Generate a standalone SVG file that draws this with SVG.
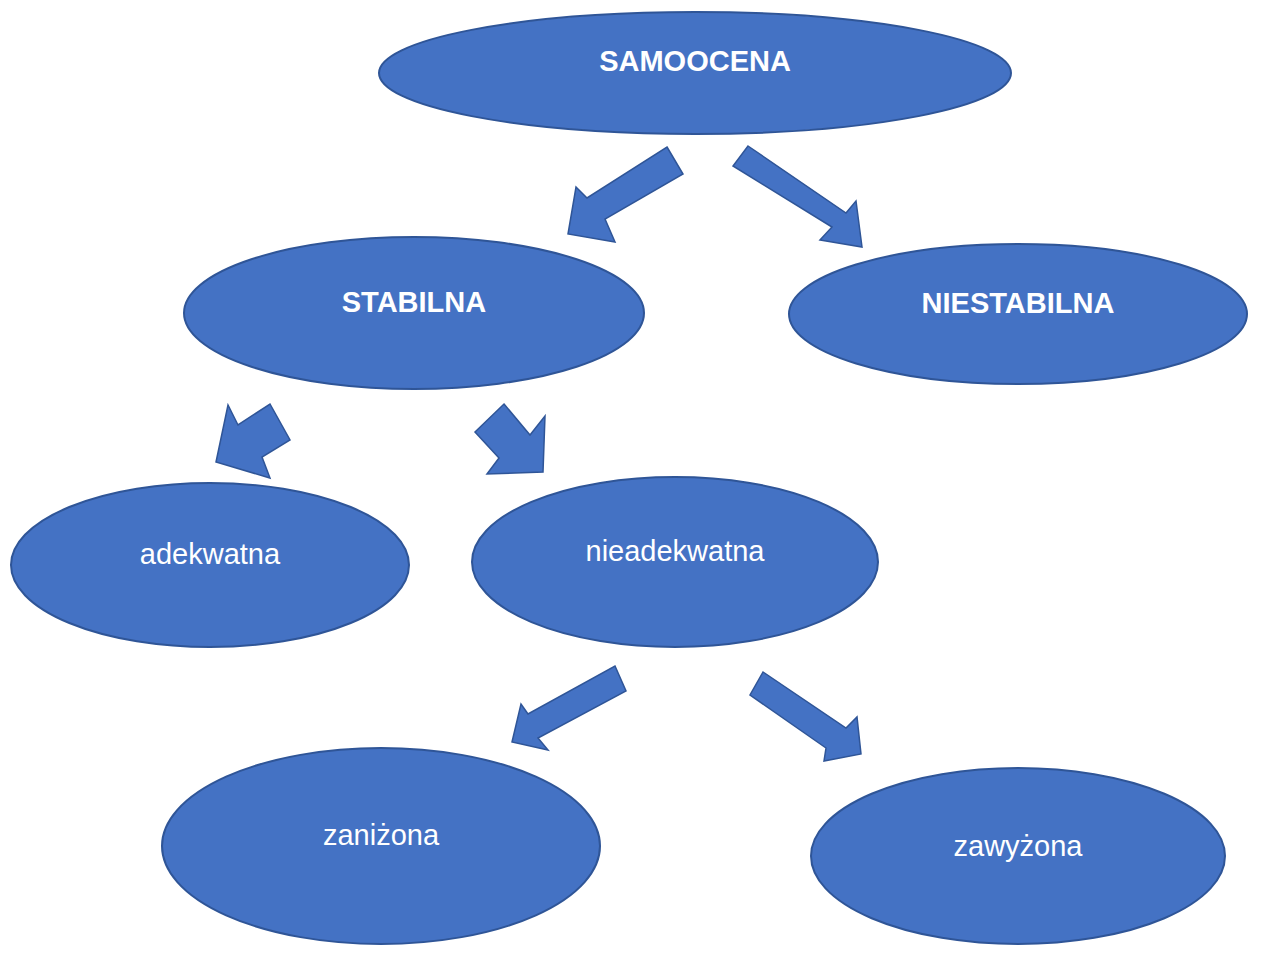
<svg xmlns="http://www.w3.org/2000/svg" width="1280" height="962" viewBox="0 0 1280 962">
<style>
.n{fill:#4472C4;stroke:#2F5597;stroke-width:2}
.a{fill:#4472C4;stroke:#2F5597;stroke-width:1.5}
text{fill:#fff;font-family:"Liberation Sans",Arial,sans-serif;font-size:29px;text-anchor:middle}
.b{font-weight:bold}
</style>
<rect width="1280" height="962" fill="#fff"/>
<g id="samoocena"><ellipse class="n" cx="695" cy="73" rx="316" ry="61"/><text class="b" x="695" y="71">SAMOOCENA</text></g>
<g id="stabilna"><ellipse class="n" cx="414" cy="313" rx="230" ry="76"/><text class="b" x="414" y="312">STABILNA</text></g>
<g id="niestabilna"><ellipse class="n" cx="1018" cy="314" rx="229" ry="70"/><text class="b" x="1018" y="313">NIESTABILNA</text></g>
<g id="adekwatna"><ellipse class="n" cx="210" cy="565" rx="199" ry="82"/><text x="210" y="564">adekwatna</text></g>
<g id="nieadekwatna"><ellipse class="n" cx="675" cy="562" rx="203" ry="85"/><text x="675" y="561">nieadekwatna</text></g>
<g id="zanizona"><ellipse class="n" cx="381" cy="846" rx="219" ry="98"/><text x="381" y="845">zaniżona</text></g>
<g id="zawyzona"><ellipse class="n" cx="1018" cy="856" rx="207" ry="88"/><text x="1018" y="856">zawyżona</text></g>
<g id="connectors">
<polygon class="a" points="667,147 683,174 605,219 615,242 568,234 576,187 587,198"/>
<polygon class="a" points="748,146 846,213 856,201 862,247 820,240 832,227 733,166"/>
<polygon class="a" points="270,404 290,440 262,457 270,478 216,462 228,405 238,425"/>
<polygon class="a" points="504,404 530,435 545,416 543,472 487,474 499,458 475,432"/>
<polygon class="a" points="615,666 626,691 538,738 548,750 512,742 521,704 528,714"/>
<polygon class="a" points="763,672 750,695 826,748 824,761 861,754 857,717 846,728"/>
</g>
</svg>
